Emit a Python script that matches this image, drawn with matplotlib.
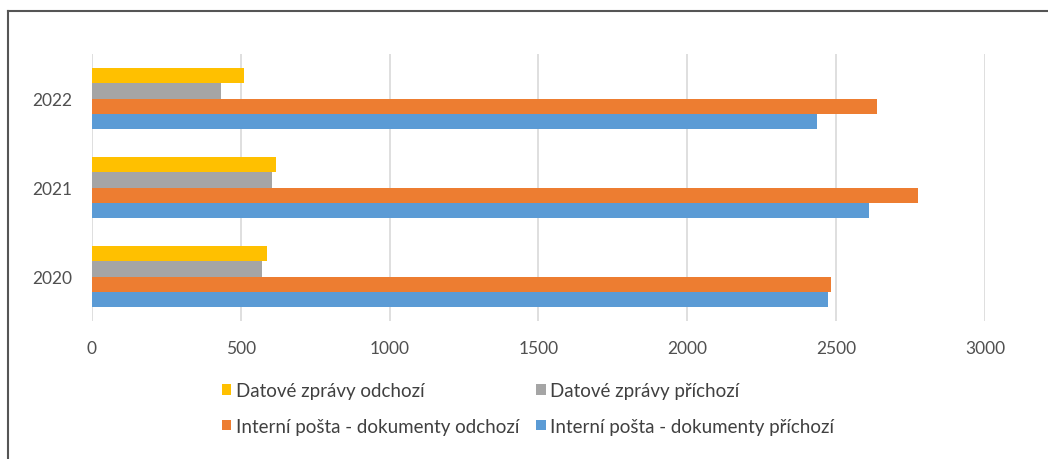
import numpy as np
import matplotlib.pyplot as plt
from matplotlib.lines import Line2D
from matplotlib.patches import Patch

plt.rcParams['font.family'] = ['Lato', 'DejaVu Sans']

roky = ["2020", "2021", "2022"]
datove_odchozi = [589, 618, 512]
datove_prichozi = [573, 604, 434]
interni_odchozi = [2482, 2775, 2635]
interni_prichozi = [2473, 2610, 2435]

nazvy = ["Datové zprávy odchozí", "Datové zprávy příchozí",
         "Interní pošta - dokumenty odchozí", "Interní pošta - dokumenty příchozí"]
barvy = ["#FFC000", "#A5A5A5", "#ED7D31", "#5B9BD5"]

W, H = 1048, 460
fig = plt.figure(figsize=(W / 100, H / 100), dpi=100)
ax = fig.add_axes([91.7 / W, 1 - 322 / H, (985.3 - 91.7) / W, (322 - 55) / H])

y = np.arange(len(roky))
h = 0.171
serie = [datove_odchozi, datove_prichozi, interni_odchozi, interni_prichozi]
posuny = [1.5, 0.5, -0.5, -1.5]
for hodnoty, barva, posun in zip(serie, barvy, posuny):
    ax.barh(y + posun * h, hodnoty, height=h, color=barva, zorder=3)

ax.set_xlim(0, 3000)
ax.set_ylim(-0.5, 2.5)
ax.set_xticks(np.arange(0, 3001, 500))
ax.set_yticks(y)
ax.set_yticklabels(roky)
ax.grid(axis='x', color='#D9D9D9', linewidth=1.2, zorder=0)
for s in ax.spines.values():
    s.set_visible(False)
ax.tick_params(axis='both', length=0, labelsize=12.5, labelcolor='#505050')
ax.tick_params(axis='x', pad=14)
ax.tick_params(axis='y', pad=14)

# legenda - plni se po sloupcich
poradi = [0, 2, 1, 3]
handles = [Patch(facecolor=barvy[i]) for i in poradi]
labels = [nazvy[i] for i in poradi]
fig.legend(handles, labels, ncol=2, loc='upper left',
           bbox_to_anchor=(222 / W, 1 - 383 / H), frameon=False,
           fontsize=13.5, labelcolor='#404040', handlelength=0.5, handleheight=0.5,
           handletextpad=0.25, columnspacing=0.9, labelspacing=1.0, borderpad=0,
           borderaxespad=0)

# ramecek vlevo a nahore
fig.add_artist(Line2D([8 / W, 8 / W], [0, 1 - 12 / H], transform=fig.transFigure,
                      color='#555555', lw=1.5))
fig.add_artist(Line2D([8 / W, 1], [1 - 12 / H, 1 - 12 / H], transform=fig.transFigure,
                      color='#555555', lw=1.5))

fig.savefig("out.png", dpi=100)
